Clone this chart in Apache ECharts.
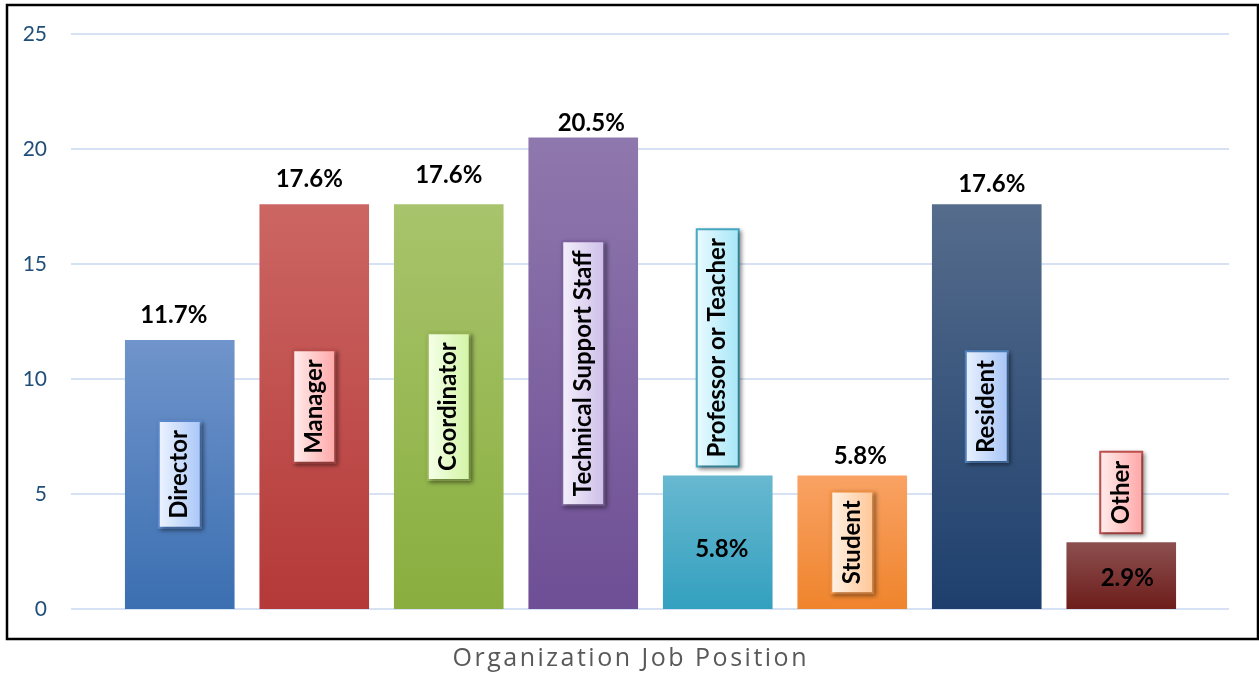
<!DOCTYPE html>
<html>
<head>
<meta charset="utf-8">
<title>Organization Job Position</title>
<script src="https://cdn.jsdelivr.net/npm/echarts@6/dist/echarts.min.js"></script>
<style>
    html, body { margin: 0; padding: 0; background: #fff; }
    #chart { width: 1259px; height: 674px; }
</style>
</head>
<body>
<div id="chart"></div>
<script>
var categories = ["Director", "Manager", "Coordinator", "Technical Support Staff", "Professor or Teacher", "Student", "Resident", "Other"];
var percents = [11.7, 17.6, 17.6, 20.5, 5.8, 5.8, 17.6, 2.9];
var yTicks = [0, 5, 10, 15, 20, 25];
var axisTitle = "Organization Job Position";

// bar gradient top/bottom, label box border and fill
var barTop = ["#7094CB", "#CC6663", "#A8C46C", "#8F78AD", "#68B8D0", "#F9A264", "#556C8C", "#8C5050"];
var barBottom = ["#3B6FB1", "#B43938", "#89AE3E", "#6E4E95", "#33A0BF", "#EF842C", "#1E3F6D", "#6D1D1A"];
var boxBorder = ["#5B8BD0", "#C0504D", "#9BBB59", "#8064A2", "#4BACC6", "#F79646", "#4F81BD", "#C0504D"];
var boxLight = ["#EEF4FF", "#FFEEEE", "#F6FFEA", "#F5F1FC", "#EAFBFF", "#FFF3E6", "#EAF2FF", "#FFEEEE"];
var boxDark = ["#A8C6F8", "#FFA6A6", "#D2F4A4", "#CDBDE8", "#A6E6F8", "#FFC594", "#A6C4F6", "#FFA6A6"];

// labels sitting above short bars, value shown inside
var labelAbove = [false, false, false, false, true, false, false, true];
var valueNudge = [[-6, -2], [-5, -2], [0, -6], [8, 9], [4, 7], [8, 4], [5, 3], [6, 3]];

var chart = echarts.init(document.getElementById("chart"));

var grad = function (a, b) {
    return new echarts.graphic.LinearGradient(0, 0, 0, 1, [
        { offset: 0, color: a },
        { offset: 1, color: b }
    ]);
};

var barData = [], valueData = [];
for (var i = 0; i < categories.length; i++) {
    var lbl = {
        show: true,
        formatter: categories[i],
        rotate: 90,
        fontFamily: "Lato",
        fontWeight: "bold",
        fontSize: 24,
        lineHeight: 26,
        color: "#000",
        padding: [7, 8],
        backgroundColor: grad(boxLight[i], boxDark[i]),
        borderColor: boxBorder[i],
        borderWidth: 2,
        shadowColor: "rgba(0,0,0,0.35)",
        shadowBlur: 4,
        shadowOffsetX: 2,
        shadowOffsetY: 2
    };
    if (labelAbove[i]) {
        lbl.position = "top";
        lbl.distance = 10;
        lbl.align = "left";
        lbl.verticalAlign = "middle";
    } else {
        lbl.position = "inside";
    }
    barData.push({
        value: percents[i],
        itemStyle: { color: grad(barTop[i], barBottom[i]) },
        label: lbl
    });

    valueData.push({
        value: percents[i],
        label: {
            show: true,
            position: labelAbove[i] ? "inside" : "top",
            distance: 11,
            offset: valueNudge[i],
            formatter: percents[i].toFixed(1) + "%",
            fontFamily: "Lato",
            fontWeight: "bold",
            fontSize: 24,
            color: "#000"
        }
    });
}

var option = {
    animation: false,
    backgroundColor: "#fff",
    grid: [
        { left: 71, right: 30, top: 34, bottom: 65 },
        { left: 112.5, right: 70.5, top: 34, bottom: 65 }
    ],
    xAxis: [
        { type: "value", gridIndex: 0, show: false, min: 0, max: 1 },
        { type: "category", gridIndex: 1, show: false, data: categories }
    ],
    yAxis: [{
        type: "value",
        gridIndex: 0,
        min: yTicks[0],
        max: yTicks[yTicks.length - 1],
        interval: yTicks[1] - yTicks[0],
        axisLine: { show: false },
        axisTick: { show: false },
        axisLabel: {
            margin: 24,
            fontFamily: "Lato",
            fontSize: 21,
            color: "#1F4E79"
        },
        splitLine: { lineStyle: { color: "#D6E2F3", width: 2 } }
    }, {
        type: "value",
        gridIndex: 1,
        show: false,
        min: yTicks[0],
        max: yTicks[yTicks.length - 1]
    }],
    series: [{
        type: "bar",
        xAxisIndex: 1,
        yAxisIndex: 1,
        barWidth: "81.5%",
        data: barData,
        z: 2
    }, {
        type: "bar",
        xAxisIndex: 1,
        yAxisIndex: 1,
        barWidth: "81.5%",
        barGap: "-100%",
        itemStyle: { color: "rgba(0,0,0,0)" },
        data: valueData,
        z: 3
    }],
    graphic: [{
        type: "rect",
        shape: { x: 7, y: 5, width: 1251, height: 634 },
        style: { fill: null, stroke: "#000", lineWidth: 2.5 },
        silent: true
    }, {
        type: "text",
        left: "center",
        top: 646,
        style: {
            // spaced out like the original axis title
            text: axisTitle.split("").join("\u200A"),
            fontFamily: "Open Sans",
            fontSize: 25,
            fill: "#595959"
        }
    }]
};

chart.setOption(option);
</script>
</body>
</html>
